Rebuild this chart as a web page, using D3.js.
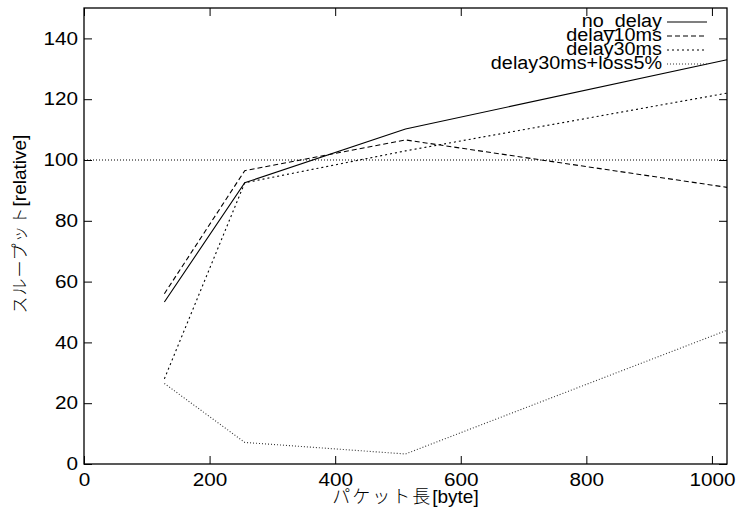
<!DOCTYPE html>
<html>
<head>
<meta charset="utf-8">
<script src="https://cdn.jsdelivr.net/npm/d3@7"></script>
<style>
  body { margin: 0; background: #fff; }
  text { font-family: "Liberation Sans", Arial, sans-serif; }
</style>
</head>
<body>
<div id="svg-container"></div>
<script>
// data
var packetLen = [128, 256, 512, 1024];
var noDelay = [53.3, 92.5, 110.2, 133];
var delay10 = [56, 96.5, 106.6, 91];
var delay30 = [28, 92.5, 103, 122];
var delay30loss5 = [26.5, 7.1, 3.3, 44];
var seriesNames = ["no_delay", "delay10ms", "delay30ms", "delay30ms+loss5%"];
var xTicks = [0, 200, 400, 600, 800, 1000];
var yTicks = [0, 20, 40, 60, 80, 100, 120, 140];
var refLine = 100;

var margin = {top: 8, right: 13, bottom: 47, left: 84},
  width = 740 - margin.left - margin.right,
  height = 511 - margin.top - margin.bottom;

var svg = d3.select("#svg-container")
    .append("svg")
    .attr("width", 740)
    .attr("height", 511)
    .append("g")
    .attr("transform", "translate(" + margin.left + "," + margin.top + ")");

var x = d3.scaleLinear().domain([0, 1024]).range([0, width]);
var y = d3.scaleLinear().domain([0, 150]).range([height, 0]);

// gnuplot's font looks a bit wider than Liberation Sans, stretch it
function stretch(sel, k) {
  sel.each(function() {
    var len = this.getComputedTextLength();
    d3.select(this).attr("textLength", len * k).attr("lengthAdjust", "spacingAndGlyphs");
  });
}

// axes, ticks pointing inward like gnuplot
svg.append("g")
  .attr("transform", "translate(0," + height + ")")
  .call(d3.axisBottom(x).tickValues(xTicks).tickSize(-8).tickPadding(9).tickFormat(d3.format("d")))
  .call(g => g.select(".domain").remove())
  .selectAll("text").style("font-size", "18px").attr("fill", "#000").call(stretch, 1.15);
svg.append("g")
  .call(d3.axisLeft(y).tickValues(yTicks).tickSize(-8).tickPadding(6))
  .call(g => g.select(".domain").remove())
  .selectAll("text").style("font-size", "18px").attr("fill", "#000").call(stretch, 1.15);
// mirror ticks
svg.append("g")
  .call(d3.axisTop(x).tickValues(xTicks).tickSize(-8).tickFormat(""))
  .call(g => g.select(".domain").remove());
svg.append("g")
  .attr("transform", "translate(" + width + ",0)")
  .call(d3.axisRight(y).tickValues(yTicks).tickSize(-8).tickFormat(""))
  .call(g => g.select(".domain").remove());

svg.selectAll(".tick line").attr("stroke", "#000");

// frame
svg.append("rect")
  .attr("width", width).attr("height", height)
  .attr("fill", "none").attr("stroke", "#000").attr("stroke-width", 1.3);

// reference line at 100
svg.append("line")
  .attr("x1", 0).attr("x2", width)
  .attr("y1", y(refLine)).attr("y2", y(refLine))
  .attr("stroke", "#000").attr("stroke-width", 1).attr("stroke-dasharray", "1,2");

var series = [
  {name: seriesNames[0], values: noDelay, dash: null, color: "#000"},
  {name: seriesNames[1], values: delay10, dash: "5,3", color: "#000"},
  {name: seriesNames[2], values: delay30, dash: "2,3", color: "#000"},
  {name: seriesNames[3], values: delay30loss5, dash: "1,2", color: "#333"}
];

var line = d3.line()
  .x((d, i) => x(packetLen[i]))
  .y(d => y(d));

svg.selectAll(".series")
  .data(series)
  .enter()
  .append("path")
  .attr("class", "series")
  .attr("d", d => line(d.values))
  .attr("fill", "none")
  .attr("stroke", d => d.color)
  .attr("stroke-width", 1.1)
  .attr("stroke-dasharray", d => d.dash);

// legend
var legend = svg.append("g").attr("transform", "translate(" + (width - 20) + ",14)");
series.forEach(function(s, i) {
  var row = legend.append("g").attr("transform", "translate(0," + (i * 14) + ")");
  row.append("text")
    .attr("x", -45).attr("y", 5)
    .attr("text-anchor", "end")
    .style("font-size", "18px")
    .text(s.name)
    .call(stretch, 1.1);
  row.append("line")
    .attr("x1", -40).attr("x2", 0).attr("y1", 0).attr("y2", 0)
    .attr("stroke", s.color).attr("stroke-width", 1.1)
    .attr("stroke-dasharray", s.dash);
});

// axis labels
svg.append("text")
  .attr("x", width / 2).attr("y", height + 39)
  .attr("text-anchor", "middle")
  .style("font-size", "19px")
  .html('<tspan style="font-family:\'Noto Sans CJK JP\'; font-weight:300; font-size:18px" letter-spacing="2">パケット長</tspan><tspan>[byte]</tspan>');

svg.append("text")
  .attr("transform", "translate(-58," + (224 - margin.top) + ") rotate(-90)")
  .attr("text-anchor", "middle")
  .style("font-size", "19px")
  .html('<tspan style="font-family:\'Noto Sans CJK JP\'; font-weight:300; font-size:17px" letter-spacing="1">スループット</tspan><tspan>[relative]</tspan>');
</script>
</body>
</html>
